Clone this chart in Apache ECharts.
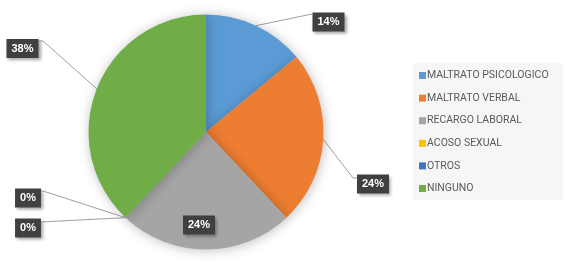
<!DOCTYPE html>
<html>
<head>
<meta charset="utf-8">
<script src="https://cdn.jsdelivr.net/npm/echarts@6/dist/echarts.min.js"></script>
<style>
html,body{margin:0;padding:0;background:#fff;}
#c{width:567px;height:264px;}
</style>
</head>
<body>
<div id="c"></div>
<script>
// ---- data ----
const categories = ['MALTRATO PSICOLOGICO', 'MALTRATO VERBAL', 'RECARGO LABORAL', 'ACOSO SEXUAL', 'OTROS', 'NINGUNO'];
const values = [14, 24, 24, 0, 0, 38];
const colors = ['#5B9BD5', '#ED7D31', '#A5A5A5', '#FFC000', '#4472C4', '#70AD47'];

// ---- label placement (style) ----
const labelCenters = [[328.5, 22], [373, 184], [199, 225], [28, 198], [28, 228], [22.5, 48.5]];
const labelBends = [
  [[312, 14]],
  [[353, 178], [358, 178]],
  null,
  [[43, 191], [40, 191]],
  [[40, 222]],
  [[43, 41], [38, 41]]
];

const chart = echarts.init(document.getElementById('c'), null, {renderer: 'canvas'});
const data = categories.map((n, i) => ({
  name: n,
  value: values[i],
  itemStyle: {color: colors[i]},
  labelLine: {show: labelBends[i] !== null}
}));

chart.setOption({
  animation: false,
  backgroundColor: '#fff',
  legend: {
    orient: 'vertical',
    left: 413,
    top: 63,
    icon: 'rect',
    itemWidth: 7,
    itemHeight: 7,
    itemGap: 11.6,
    padding: [7, 14, 6, 6],
    backgroundColor: '#f6f6f6',
    textStyle: {color: '#595959', fontSize: 10.5, fontFamily: 'Roboto', padding: [0, 0, 0, -4]},
    data: categories
  },
  series: [{
    type: 'pie',
    center: [206, 132],
    radius: 117.5,
    startAngle: 90,
    clockwise: true,
    avoidLabelOverlap: false,
    stillShowZeroSum: true,
    data: data,
    itemStyle: {shadowBlur: 12, shadowColor: 'rgba(0,0,0,0.25)', shadowOffsetX: 1, shadowOffsetY: 1},
    emphasis: {disabled: true},
    label: {
      show: true,
      position: 'outside',
      formatter: p => p.value + '%',
      color: '#fff',
      fontWeight: 'bold',
      fontSize: 11,
      fontFamily: 'Liberation Sans',
      backgroundColor: '#404040',
      padding: [4, 5, 4, 5],
      shadowColor: 'rgba(0,0,0,0.35)',
      shadowBlur: 3,
      shadowOffsetX: 2,
      shadowOffsetY: 2
    },
    labelLine: {
      show: true,
      length: 10,
      length2: 10,
      lineStyle: {color: '#a0a0a0', width: 1}
    },
    labelLayout: function (params) {
      const i = params.dataIndex;
      const c = labelCenters[i];
      const res = {x: c[0], y: c[1], align: 'center', verticalAlign: 'middle'};
      if (labelBends[i] && params.labelLinePoints) {
        const start = params.labelLinePoints[0];
        res.labelLinePoints = [[start[0], start[1]]].concat(labelBends[i]);
      }
      return res;
    }
  }]
});
</script>
</body>
</html>
